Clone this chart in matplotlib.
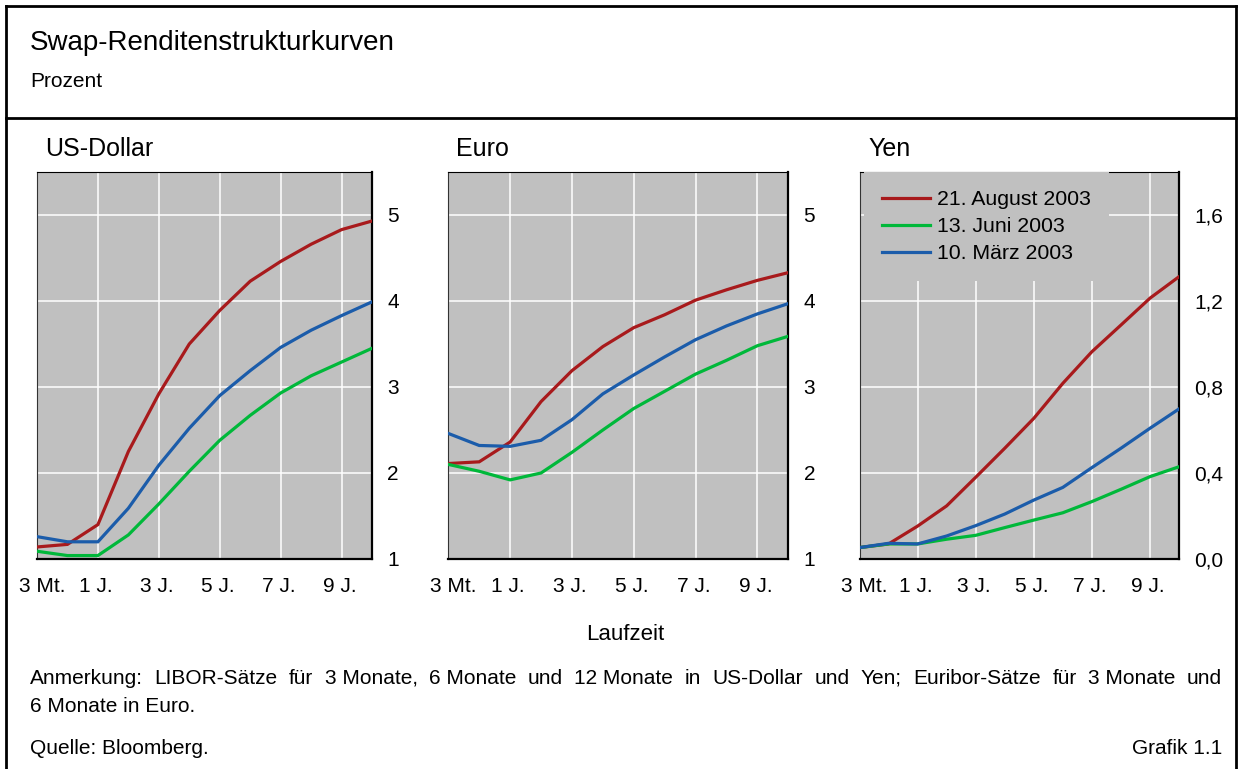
#Imports
import matplotlib.pyplot as plt
import numpy as np
from matplotlib.transforms import ScaledTranslation

# Swap-Renditestrukturkurven: drei Panels (US-Dollar, Euro, Yen), drei Stichtage

W, H = 1239, 769
plt.rcParams['font.family'] = ['Liberation Sans', 'DejaVu Sans']

# Laufzeiten (gleichabständig gezeichnet)
maturities = ["3 Mt.", "6 Mt.", "1 J.", "2 J.", "3 J.", "4 J.", "5 J.",
              "6 J.", "7 J.", "8 J.", "9 J.", "10 J."]
tick_labels = ["3 Mt.", "1 J.", "3 J.", "5 J.", "7 J.", "9 J."]
dates = ["21. August 2003", "13. Juni 2003", "10. März 2003"]

usd_aug = [1.14, 1.17, 1.40, 2.25, 2.92, 3.50, 3.89, 4.23, 4.46, 4.66, 4.83, 4.93]
usd_jun = [1.09, 1.04, 1.04, 1.28, 1.64, 2.02, 2.38, 2.67, 2.93, 3.13, 3.29, 3.45]
usd_mar = [1.26, 1.20, 1.20, 1.59, 2.09, 2.52, 2.90, 3.19, 3.46, 3.66, 3.83, 3.99]

eur_aug = [2.11, 2.13, 2.36, 2.83, 3.19, 3.47, 3.69, 3.84, 4.01, 4.13, 4.24, 4.33]
eur_jun = [2.10, 2.02, 1.92, 2.00, 2.24, 2.50, 2.75, 2.95, 3.15, 3.31, 3.48, 3.59]
eur_mar = [2.46, 2.32, 2.31, 2.38, 2.62, 2.92, 3.14, 3.35, 3.55, 3.71, 3.85, 3.97]

jpy_aug = [0.053, 0.070, 0.153, 0.247, 0.380, 0.515, 0.654, 0.817, 0.964, 1.088, 1.213, 1.313]
jpy_jun = [0.053, 0.070, 0.070, 0.092, 0.110, 0.146, 0.181, 0.215, 0.267, 0.324, 0.383, 0.429]
jpy_mar = [0.053, 0.073, 0.070, 0.107, 0.155, 0.209, 0.274, 0.333, 0.425, 0.515, 0.608, 0.698]

colors = ["#A81A1C", "#00B83A", "#1B5CAA"]
grey = "#C0C0C0"

fig = plt.figure(figsize=(W / 100, H / 100), dpi=100)

def px(x):
    return x / W

def py(y):
    return 1 - y / H

#Panels: (titel, x links in px, breite in px, daten, ylim, yticks, dezimal, titel-x)
panels = [
    ("US-Dollar", 37, 335, [usd_aug, usd_jun, usd_mar], (1, 5.5), [1, 2, 3, 4, 5], False, 45),
    ("Euro", 448.3, 340, [eur_aug, eur_jun, eur_mar], (1, 5.5), [1, 2, 3, 4, 5], False, 456),
    ("Yen", 859.5, 319.5, [jpy_aug, jpy_jun, jpy_mar], (0, 1.8), [0, 0.4, 0.8, 1.2, 1.6], True, 868),
]

top, bottom = 172, 559
x = np.arange(len(maturities))
axes = []
for title, left, width, series, ylim, yt, dec, tx in panels:
    ax = fig.add_axes([px(left), py(bottom), px(width), (bottom - top) / H])
    ax.set_facecolor(grey)
    for s, c, lab in zip(series, colors, dates):
        ax.plot(x, s, color=c, lw=2.3, label=lab, solid_joinstyle='miter', zorder=3)
    ax.set_xlim(0, len(maturities) - 1)
    ax.set_ylim(*ylim)
    ax.set_xticks([0, 2, 4, 6, 8, 10])
    ax.set_xticklabels(tick_labels)
    ax.set_yticks(yt)
    if dec:
        ax.set_yticklabels([f"{v:.1f}".replace(".", ",") for v in yt])
    else:
        ax.set_yticklabels([str(v) for v in yt])
    ax.yaxis.tick_right()
    ax.tick_params(axis='both', length=0, labelsize=15)
    ax.tick_params(axis='y', pad=11)
    ax.tick_params(axis='x', pad=13)
    # "3 Mt." etwas nach rechts, die anderen leicht nach links
    for i, lab in enumerate(ax.get_xticklabels()):
        dx = 5 if i == 0 else -2
        lab.set_transform(lab.get_transform() + ScaledTranslation(dx / 100, 0, fig.dpi_scale_trans))
    ax.grid(True, color='white', lw=1.1, zorder=1)
    ax.set_axisbelow(True)
    ax.spines['top'].set_linewidth(0.8)
    ax.spines['left'].set_linewidth(0.8)
    ax.spines['left'].set_color('#333333')
    ax.spines['right'].set_linewidth(1.6)
    ax.spines['bottom'].set_linewidth(1.6)
    fig.text(px(tx), py(156), title, fontsize=18, va='baseline', ha='left')
    axes.append(ax)

#Legende im Yen-Panel
leg = axes[2].legend(loc='upper left', bbox_to_anchor=(0.014, 1.0), borderaxespad=0,
                     frameon=True, facecolor=grey, edgecolor='none', framealpha=1,
                     fontsize=15.3, handlelength=2.26, handletextpad=0.33,
                     labelspacing=0.38, borderpad=0.85)
leg.get_frame().set_boxstyle('square', pad=0)
leg.set_zorder(5)

#Titel und Texte
fig.text(px(30), py(50), "Swap-Renditenstrukturkurven", fontsize=20, va='baseline')
fig.text(px(30), py(87), "Prozent", fontsize=15, va='baseline')
fig.text(px(625), py(640), "Laufzeit", fontsize=16, va='baseline', ha='center')
fig.text(px(30), py(712), "6 Monate in Euro.", fontsize=15, va='baseline')
fig.text(px(30), py(754), "Quelle: Bloomberg.", fontsize=15, va='baseline')
fig.text(px(1222), py(754), "Grafik 1.1", fontsize=15, va='baseline', ha='right')

#Anmerkung im Blocksatz
note_words = ["Anmerkung:", "LIBOR-Sätze", "für", "3\u00a0Monate,", "6\u00a0Monate", "und",
              "12\u00a0Monate", "in", "US-Dollar", "und", "Yen;", "Euribor-Sätze", "für",
              "3\u00a0Monate", "und"]
r = fig.canvas.get_renderer()
word_texts = [fig.text(0, py(684), w, fontsize=15, va='baseline') for w in note_words]
widths = [t.get_window_extent(r).width for t in word_texts]
gap = (1222 - 30 - sum(widths)) / (len(widths) - 1)
pos = 30
for t, w in zip(word_texts, widths):
    t.set_x(px(pos))
    pos += w + gap

#Rahmen
frame = [((6, 6), (6, H)), ((1236, 1236), (6, H)), ((6, 1236), (6, 6)), ((6, 1236), (118, 118))]
for xs, ys in frame:
    fig.add_artist(plt.Line2D([px(xs[0]), px(xs[1])], [py(ys[0]), py(ys[1])],
                              transform=fig.transFigure, color='black', lw=2))

fig.savefig("out.png", dpi=100)
